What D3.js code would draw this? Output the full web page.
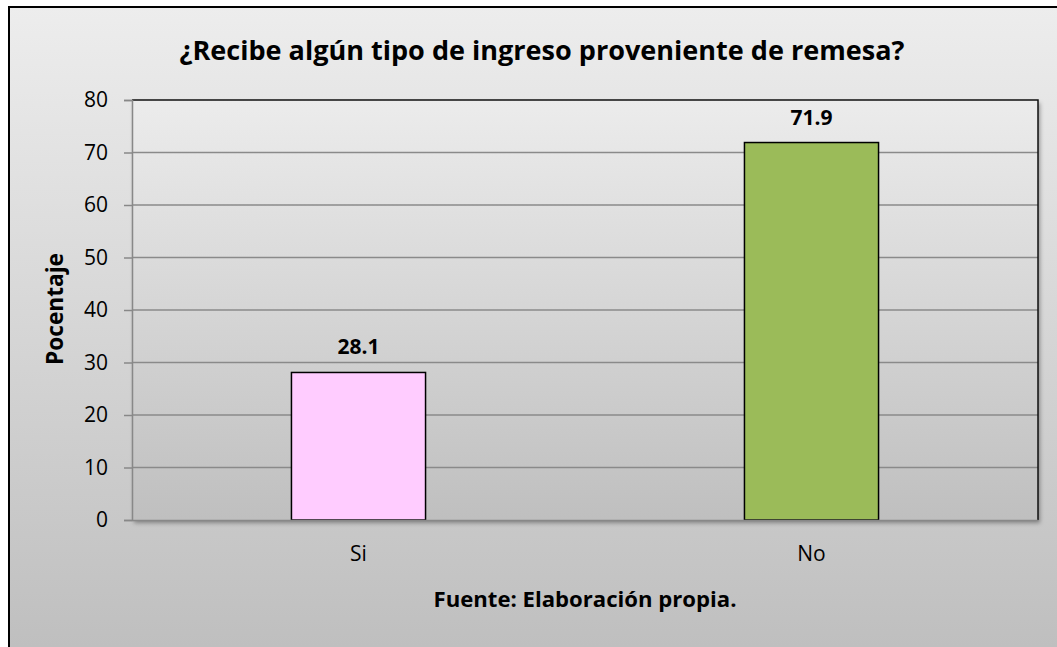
<!DOCTYPE html>
<html>
<head>
  <meta charset="utf-8">
  <title>Remesas</title>
  <script src="https://d3js.org/d3.v7.min.js"></script>
  <style>
    html, body { margin: 0; padding: 0; background: #fff; }
    svg { display: block; font-family: "Open Sans", "Noto Sans", sans-serif; }
  </style>
</head>
<body>
  <div id="chart"></div>
  <script>
    // chart data
    var categories = ['Si', 'No'],
        values = [28.1, 71.9],
        barColors = ['#ffccff', '#9bbb59'],
        yTicks = [0, 10, 20, 30, 40, 50, 60, 70, 80];

    var width = 1057, height = 647,
        plot = {left: 132, top: 100, right: 1038, bottom: 520};

    var svg = d3.select('#chart').append('svg')
        .attr('width', width)
        .attr('height', height);

    var defs = svg.append('defs');

    var bg = defs.append('linearGradient')
        .attr('id', 'bgGrad').attr('x1', 0).attr('y1', 0).attr('x2', 0).attr('y2', 1);
    bg.append('stop').attr('offset', '0%').attr('stop-color', '#ededed');
    bg.append('stop').attr('offset', '100%').attr('stop-color', '#bdbdbd');

    var pg = defs.append('linearGradient')
        .attr('id', 'plotGrad').attr('x1', 0).attr('y1', 0).attr('x2', 0).attr('y2', 1);
    pg.append('stop').attr('offset', '0%').attr('stop-color', '#ececec');
    pg.append('stop').attr('offset', '100%').attr('stop-color', '#bfbfbf');

    var shadow = defs.append('filter').attr('id', 'shadow')
        .attr('x', '-5%').attr('y', '-5%').attr('width', '110%').attr('height', '110%');
    shadow.append('feDropShadow')
        .attr('dx', 2).attr('dy', 3).attr('stdDeviation', 2)
        .attr('flood-color', '#000').attr('flood-opacity', 0.35);

    // chart frame
    svg.append('rect')
        .attr('x', 9).attr('y', 7)
        .attr('width', width + 20).attr('height', height + 20)
        .attr('fill', 'url(#bgGrad)')
        .attr('stroke', '#000')
        .attr('stroke-width', 2);

    var x = d3.scaleBand()
        .domain(categories)
        .range([plot.left, plot.right]);

    var y = d3.scaleLinear()
        .domain([0, 80])
        .range([plot.bottom, plot.top]);

    var barWidth = x.bandwidth() * 0.296;

    // plot area
    svg.append('rect')
        .attr('x', plot.left).attr('y', plot.top)
        .attr('width', plot.right - plot.left).attr('height', plot.bottom - plot.top)
        .attr('fill', 'url(#plotGrad)')
        .attr('filter', 'url(#shadow)');

    // gridlines
    svg.append('g')
      .selectAll('line')
      .data(yTicks.filter(function(d) { return d > 0 && d < 80; }))
      .enter().append('line')
        .attr('x1', plot.left).attr('x2', plot.right)
        .attr('y1', function(d) { return y(d); })
        .attr('y2', function(d) { return y(d); })
        .attr('stroke', '#8a8a8a')
        .attr('stroke-width', 1.5);

    // top and right border of the plot area
    svg.append('path')
        .attr('d', 'M' + plot.left + ',' + plot.top + 'H' + plot.right + 'V' + plot.bottom)
        .attr('fill', 'none')
        .attr('stroke', '#111')
        .attr('stroke-width', 1.5);

    // bars
    svg.append('g')
      .selectAll('rect')
      .data(values)
      .enter().append('rect')
        .attr('x', function(d, i) { return x(categories[i]) + x.bandwidth() / 2 - barWidth / 2; })
        .attr('y', function(d) { return y(d); })
        .attr('width', barWidth)
        .attr('height', function(d) { return y(0) - y(d); })
        .attr('fill', function(d, i) { return barColors[i]; })
        .attr('stroke', '#000')
        .attr('stroke-width', 1.5);

    // value labels
    svg.append('g')
      .selectAll('text')
      .data(values)
      .enter().append('text')
        .attr('x', function(d, i) { return x(categories[i]) + x.bandwidth() / 2; })
        .attr('y', function(d) { return y(d) - 18; })
        .attr('text-anchor', 'middle')
        .attr('font-size', 21)
        .attr('font-weight', 'bold')
        .attr('fill', '#000')
        .text(function(d) { return d.toFixed(1); });

    // y axis
    var yAxis = svg.append('g')
        .attr('transform', 'translate(' + plot.left + ',0)')
        .call(d3.axisLeft(y).tickValues(yTicks).tickSize(8).tickPadding(16));
    yAxis.select('.domain').attr('stroke', '#888').attr('stroke-width', 1.5);
    yAxis.selectAll('.tick line').attr('stroke', '#888').attr('stroke-width', 1.5);
    yAxis.selectAll('text')
        .attr('font-size', 21)
        .attr('font-family', '"Open Sans", sans-serif')
        .attr('fill', '#000');

    // x axis
    var xAxis = svg.append('g')
        .attr('transform', 'translate(0,' + plot.bottom + ')')
        .call(d3.axisBottom(x).tickSize(0).tickPadding(26));
    xAxis.select('.domain').attr('stroke', '#888').attr('stroke-width', 1.5);
    xAxis.selectAll('text')
        .attr('font-size', 21)
        .attr('font-family', '"Open Sans", sans-serif')
        .attr('fill', '#000');

    // fit a text element to a target width by font size
    function fitText(sel, target) {
      var w = sel.node().getComputedTextLength();
      var fs = parseFloat(sel.attr('font-size'));
      sel.attr('font-size', (fs * target / w).toFixed(2));
    }

    var title = svg.append('text')
        .attr('x', 542).attr('y', 60)
        .attr('text-anchor', 'middle')
        .attr('font-size', 24)
        .attr('font-weight', 'bold')
        .text('¿Recibe algún tipo de ingreso proveniente de remesa?');
    fitText(title, 725);

    var foot = svg.append('text')
        .attr('x', 585).attr('y', 607)
        .attr('text-anchor', 'middle')
        .attr('font-size', 18)
        .attr('font-weight', 'bold')
        .text('Fuente: Elaboración propia.');
    fitText(foot, 303);

    var ylab = svg.append('text')
        .attr('transform', 'translate(63,309) rotate(-90)')
        .attr('text-anchor', 'middle')
        .attr('font-size', 18)
        .attr('font-weight', 'bold')
        .text('Pocentaje');
    fitText(ylab, 112);
  </script>
</body>
</html>
